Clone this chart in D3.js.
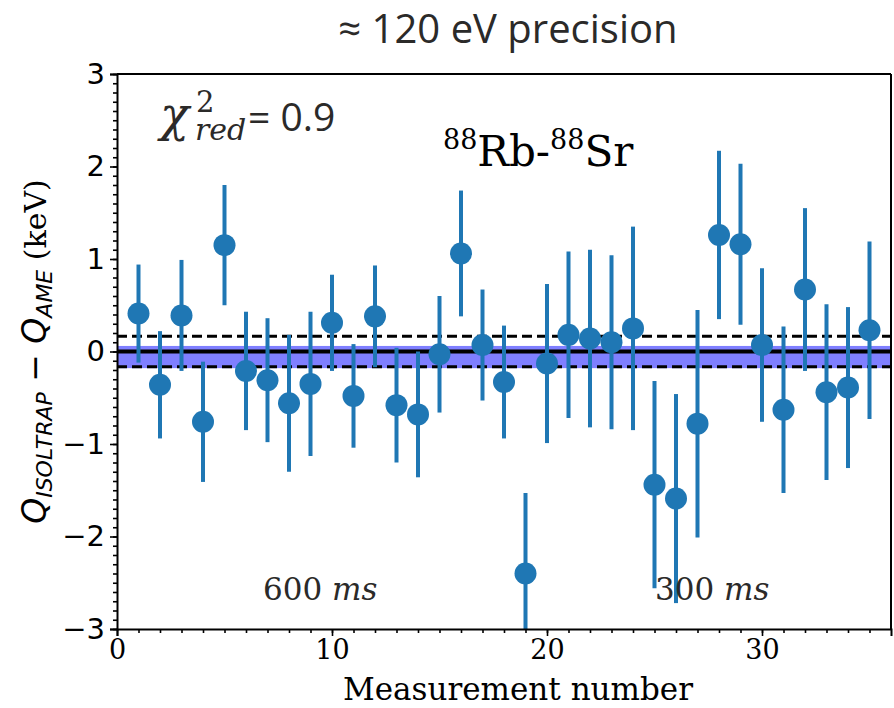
<!DOCTYPE html>
<html>
<head>
<meta charset="utf-8">
<script src="https://cdn.jsdelivr.net/npm/d3@7"></script>
<style>
  body { margin: 0; background: #fff; }
  svg { display: block; }
</style>
</head>
<body>
<div class="chart"></div>
<script>
// measurement index and Q difference (keV) with 1-sigma errors
var measurement = [1,2,3,4,5,6,7,8,9,10,11,12,13,14,15,16,17,18,19,20,21,22,23,24,25,26,27,28,29,30,31,32,33,34,35];
var deltaQ = [0.41,-0.36,0.39,-0.76,1.15,-0.21,-0.31,-0.56,-0.35,0.31,-0.48,0.38,-0.58,-0.68,-0.03,1.06,0.07,-0.33,-2.40,-0.13,
              0.18,0.14,0.10,0.25,-1.44,-1.59,-0.78,1.26,1.16,0.07,-0.63,0.67,-0.44,-0.39,0.23];
var deltaErr = [0.53,0.58,0.60,0.65,0.65,0.64,0.67,0.74,0.78,0.52,0.56,0.55,0.62,0.68,0.63,0.68,0.60,0.61,0.87,0.86,
                0.90,0.96,0.94,1.10,1.12,1.13,1.23,0.91,0.87,0.83,0.90,0.88,0.95,0.87,0.96];

var weightedMean = -0.06, meanErr = 0.12;   // blue band
var ameErr = 0.165;                          // dashed lines

var xTicks = [0, 10, 20, 30];
var yTicks = [-3, -2, -1, 0, 1, 2, 3];

var width = 894, height = 708;
var margin = {top: 74, right: 3, bottom: 79, left: 117};

var svg = d3.select(".chart").append("svg")
    .attr("width", width)
    .attr("height", height);

var x = d3.scaleLinear().domain([0, 36]).range([margin.left, width - margin.right]);
var y = d3.scaleLinear().domain([-3, 3]).range([height - margin.bottom, margin.top]);

svg.append("clipPath").attr("id", "plotclip")
  .append("rect")
    .attr("x", x(0)).attr("y", y(3))
    .attr("width", x(36) - x(0)).attr("height", y(-3) - y(3));

var plot = svg.append("g").attr("clip-path", "url(#plotclip)");

// band of the mean
plot.append("rect")
    .attr("x", x(0)).attr("width", x(36) - x(0))
    .attr("y", y(weightedMean + meanErr))
    .attr("height", y(weightedMean - meanErr) - y(weightedMean + meanErr))
    .attr("fill", "#7f7fff");

plot.append("line")
    .attr("x1", x(0)).attr("x2", x(36))
    .attr("y1", y(0)).attr("y2", y(0))
    .attr("stroke", "#000").attr("stroke-width", 4);

[ameErr, -ameErr].forEach(function(v) {
  plot.append("line")
      .attr("x1", x(0)).attr("x2", x(36))
      .attr("y1", y(v)).attr("y2", y(v))
      .attr("stroke", "#000").attr("stroke-width", 3)
      .attr("stroke-dasharray", "10,5");
});

var pts = measurement.map(function(m, i) { return {m: m, v: deltaQ[i], e: deltaErr[i]}; });

plot.selectAll(".err").data(pts).enter().append("line")
    .attr("class", "err")
    .attr("x1", function(d) { return x(d.m); })
    .attr("x2", function(d) { return x(d.m); })
    .attr("y1", function(d) { return y(d.v - d.e); })
    .attr("y2", function(d) { return y(d.v + d.e); })
    .attr("stroke", "#1f77b4").attr("stroke-width", 4);

plot.selectAll(".pt").data(pts).enter().append("circle")
    .attr("class", "pt")
    .attr("cx", function(d) { return x(d.m); })
    .attr("cy", function(d) { return y(d.v); })
    .attr("r", 11)
    .attr("fill", "#1f77b4");

// axes
var xAxis = svg.append("g")
    .attr("transform", "translate(0," + y(-3) + ")")
    .call(d3.axisBottom(x).tickValues(xTicks).tickSize(7).tickPadding(4).tickFormat(d3.format("d")));
svg.append("g")
    .attr("transform", "translate(0," + y(-3) + ")")
    .call(d3.axisBottom(x).tickValues(d3.range(1, 36)).tickSize(4).tickFormat(""))
    .call(function(g) { g.select(".domain").remove(); });
xAxis.selectAll("text")
    .attr("font-family", "DejaVu Serif").attr("font-size", 27).attr("fill", "#000");

var yAxis = svg.append("g")
    .attr("transform", "translate(" + x(0) + ",0)")
    .call(d3.axisLeft(y).tickValues(yTicks).tickSize(7).tickPadding(5)
      .tickFormat(function(d) { return d < 0 ? "\u2212" + (-d) : d; }));
svg.append("g")
    .attr("transform", "translate(" + x(0) + ",0)")
    .call(d3.axisLeft(y).tickValues(d3.range(-30, 31).map(function(k) { return k / 10; })).tickSize(4).tickFormat(""))
    .call(function(g) { g.select(".domain").remove(); });
yAxis.selectAll("text")
    .attr("font-family", "DejaVu Sans").attr("font-size", 29).attr("fill", "#000");

svg.selectAll(".domain").attr("stroke-width", 2);
svg.selectAll(".tick line").attr("stroke-width", 1.6);

// top and right spines
svg.append("line").attr("x1", x(0)).attr("x2", x(36)).attr("y1", y(3)).attr("y2", y(3))
    .attr("stroke", "#000").attr("stroke-width", 2);
svg.append("line").attr("x1", x(36)).attr("x2", x(36)).attr("y1", y(3)).attr("y2", y(-3))
    .attr("stroke", "#000").attr("stroke-width", 2);

// titles and labels
svg.append("text")
    .attr("x", 508).attr("y", 43)
    .attr("text-anchor", "middle")
    .attr("font-family", "Open Sans").attr("font-size", 40)
    .attr("fill", "#2b2a29")
    .text("\u2248 120 eV precision");

svg.append("text")
    .attr("x", 518).attr("y", 700)
    .attr("text-anchor", "middle")
    .attr("font-family", "DejaVu Serif").attr("font-size", 31)
    .attr("fill", "#000")
    .text("Measurement number");

var yl = svg.append("text")
    .attr("transform", "translate(46," + y(0) + ") rotate(-90)")
    .attr("text-anchor", "middle")
    .attr("fill", "#000");
yl.append("tspan").attr("font-family", "DejaVu Sans").attr("font-style", "italic").attr("font-size", 33).text("Q");
yl.append("tspan").attr("font-family", "DejaVu Sans").attr("font-style", "italic").attr("font-size", 22).attr("dy", 6).text("ISOLTRAP");
yl.append("tspan").attr("font-family", "DejaVu Sans").attr("font-size", 33).attr("dy", -6).text(" \u2212 ");
yl.append("tspan").attr("font-family", "DejaVu Sans").attr("font-style", "italic").attr("font-size", 33).text("Q");
yl.append("tspan").attr("font-family", "DejaVu Sans").attr("font-style", "italic").attr("font-size", 22).attr("dy", 6).text("AME");
yl.append("tspan").attr("font-family", "DejaVu Serif").attr("font-size", 30).attr("dy", -6).text(" (keV)");

// chi-square annotation
var chi = svg.append("text").attr("x", 160).attr("y", 131).attr("fill", "#2b2a29");
chi.append("tspan").attr("font-family", "DejaVu Serif").attr("font-style", "italic").attr("font-size", 48).text("\u03c7");
chi.append("tspan").attr("font-family", "DejaVu Serif").attr("font-size", 29).attr("x", 196).attr("dy", -19).text("2");
chi.append("tspan").attr("font-family", "DejaVu Serif").attr("font-style", "italic").attr("font-size", 30).attr("x", 195).attr("dy", 28).text("red");
chi.append("tspan").attr("font-family", "Open Sans").attr("font-size", 39).attr("x", 248).attr("dy", -9).text("= 0.9");

// reaction label
var rx = svg.append("text").attr("x", 443).attr("y", 166).attr("font-family", "DejaVu Serif").attr("fill", "#000");
rx.append("tspan").attr("font-size", 27).attr("dy", -17).text("88");
rx.append("tspan").attr("font-size", 42).attr("dy", 17).text("Rb-");
rx.append("tspan").attr("font-size", 27).attr("dy", -17).text("88");
rx.append("tspan").attr("font-size", 42).attr("dy", 17).text("Sr");

// measurement settings
[{t: "600", xpos: 263}, {t: "300", xpos: 655}].forEach(function(s) {
  var tx = svg.append("text").attr("x", s.xpos).attr("y", 600)
      .attr("font-family", "DejaVu Serif").attr("font-size", 31).attr("fill", "#2b2a29");
  tx.append("tspan").text(s.t + " ");
  tx.append("tspan").attr("font-style", "italic").text("ms");
});
</script>
</body>
</html>
